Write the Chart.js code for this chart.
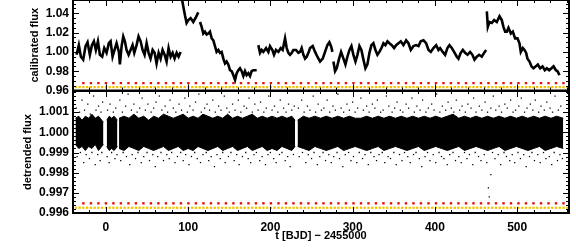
<!DOCTYPE html>
<html>
<head>
<meta charset="utf-8">
<script src="https://cdn.jsdelivr.net/npm/chart.js@4.4.1/dist/chart.umd.min.js"></script>
<style>
body { margin: 0; background: #fff; }
#top { position: absolute; left: 0; top: 0; width: 576px; height: 100px; }
#bot { position: absolute; left: 0; top: 90px; width: 576px; height: 162px; }
</style>
</head>
<body>
<div id="top"><canvas id="c1"></canvas></div>
<div id="bot"><canvas id="c2"></canvas></div>
<script>
// tick labels
var xTicks = [0, 100, 200, 300, 400, 500];
var calTicks = [0.96, 0.98, 1.00, 1.02, 1.04];
var detTicks = [0.996, 0.997, 0.998, 0.999, 1.000, 1.001];

// calibrated flux, one list per observing segment
var calDays = [
  [-35.7,-32.9,-30.4,-27.6,-24.7,-22.3,-19.5,-17.0,-14.6,-12.2,-9.7,-7.3,-4.5,-2.0,0.8,3.6,5.7,8.1,10.5,13.0,15.8,17.0,19.1,21.1,23.1,25.1,27.6,30.0,32.4,34.5,37.3,39.7,42.2,44.6,47.0,49.5,51.9,54.3,56.8,59.2,61.6,64.1,66.5,68.9,71.4,73.8,76.2,78.7,81.1,83.5,86.0,88.4,90.8],
  [91.8,94.1,96.1,98.1,100.2,103.0,106.2,109.5,112.3],
  [114.4,116.4,118.4,120.4,122.5,124.5,126.5,128.6,130.6,132.6,134.6,136.7,138.7,140.7,142.8,144.8,146.8,148.8,150.9,152.9,154.9,157.0,159.0,161.0,163.0,165.1,167.1,169.1,171.1,173.2,175.2,177.2,179.2,183.3],
  [185.3,187.4,189.4,191.4,194.7,197.5,199.5,202.4,204.4,206.8,209.7,212.5,214.9,217.8,219.8,221.8,223.8,225.9,227.9,231.1,234.0,236.0,238.0,240.1,242.1,244.1,246.2,248.2,251.4,254.3,257.1,260.4,263.6,266.4,269.3,271.7,273.7,275.4],
  [276.6,278.6,280.6,283.5,285.9,288.8,291.2,293.6,296.1,298.5,300.9,303.4,305.8,308.2,310.6,313.1,315.5,317.9,320.4,322.8,325.2,327.7,330.1,332.5,335.0,337.4,339.8,342.3,344.7,347.5,350.4,352.8,355.7,358.5,361.7,365.0,367.8,370.7,373.9,377.1,380.0,382.8,386.1,389.3,392.2,395.0,398.2,401.5,404.3,406.3,409.5,412.4,415.2,417.7,420.5,423.3,426.6,428.6,431.4,433.9,436.7,439.6,442.8,445.6,448.1,450.9,453.7,457.0,459.8,462.3],
  [463.1,464.3,466.3,469.1,472.0,475.2,478.5,481.3,483.3,485.4,487.4,489.4,492.3,494.7,497.5,500.4,502.8,504.4,506.9,508.9,510.9,512.5,515.0,517.4,519.8,522.7,525.1,528.0,530.8,533.6,536.1,538.9,541.7,544.2,547.0,549.0,551.5]
];
var calFlux = [
  [0.997,1.007,0.995,0.992,1.006,1.010,0.997,1.007,1.011,1.002,1.011,0.997,0.995,1.004,0.999,1.009,1.011,0.995,1.002,1.009,1.000,0.987,1.006,1.016,1.011,1.002,0.997,1.002,1.007,0.999,1.007,1.016,1.011,1.002,0.997,1.009,0.999,0.993,1.002,0.999,0.988,0.999,0.993,1.002,0.997,0.990,1.004,0.995,0.999,0.993,0.999,0.995,1.000],
  [1.058,1.047,1.038,1.030,1.033,1.035,1.031,1.036,1.041],
  [1.031,1.026,1.019,1.021,1.018,1.019,1.021,1.014,1.012,1.006,1.000,1.002,0.999,1.000,0.993,0.988,0.990,0.987,0.981,0.980,0.976,0.971,0.978,0.981,0.983,0.980,0.975,0.980,0.976,0.978,0.975,0.980,0.981,0.981],
  [1.007,0.999,1.002,1.000,1.004,1.000,1.006,1.002,0.997,1.002,1.000,1.004,1.002,1.014,1.004,0.999,0.997,0.999,1.002,1.002,0.999,1.000,1.004,0.997,0.993,0.995,0.999,1.004,1.006,1.000,0.995,0.990,0.993,1.000,1.007,1.010,1.006,1.000],
  [0.990,0.980,0.983,0.993,1.000,0.993,0.987,0.995,1.002,1.006,0.997,0.990,0.997,1.006,1.002,0.992,0.983,0.987,0.999,1.007,1.009,1.002,0.997,1.000,1.004,1.009,1.007,1.011,1.009,1.007,1.004,1.007,1.009,1.011,1.007,1.012,1.009,1.002,1.006,1.007,1.006,1.011,1.012,1.009,1.002,1.000,1.004,1.007,1.002,1.004,1.000,0.997,1.004,1.007,1.004,1.000,0.995,0.993,0.999,1.002,0.999,0.997,1.000,0.997,0.992,0.995,0.997,0.995,0.999,1.002],
  [1.042,1.026,1.031,1.030,1.033,1.031,1.037,1.033,1.026,1.021,1.021,1.025,1.019,1.021,1.014,1.014,1.009,1.000,1.004,1.002,0.999,0.993,0.990,0.985,0.983,0.985,0.987,0.983,0.985,0.981,0.983,0.981,0.983,0.985,0.981,0.980,0.976]
];

// detrended flux: the dense core, as an upper and lower edge per segment
var bandDays = [
  [-37,-33,-29,-25,-21,-17,-13,-9,-5,-3],
  [1,4,7,10,14],
  [16,22,28,34,40,46,52,58,64,70,76,82,88,94,100,106,112,118,124,130,136,142,148,154,160,166,172,178,184,190,196,202,208,214,220,226,230],
  [233,240,247,254,261,268,275,282,289,296,303,310,317,324,331,338,345,352,359,366,373,380,387,394,401,408,415,422,429,436,443,450,457,464,471,478,485,492,499,506,513,520,527,534,541,548,556]
];
var bandHigh = [
  [1.0007,1.0008,1.0006,1.0008,1.0007,1.0009,1.0007,1.0008,1.0006,1.0005],
  [1.0006,1.0008,1.0007,1.0008,1.0006],
  [1.0007,1.0008,1.0007,1.0009,1.0007,1.0008,1.0006,1.0008,1.0007,1.0009,1.0008,1.0007,1.0008,1.0009,1.0007,1.0008,1.0007,1.0009,1.0008,1.0007,1.0008,1.0007,1.0009,1.0007,1.0008,1.0007,1.0008,1.0009,1.0007,1.0008,1.0007,1.0008,1.0007,1.0008,1.0007,1.0008,1.0006],
  [1.0006,1.0008,1.0007,1.0008,1.0007,1.0008,1.0007,1.0008,1.0007,1.0008,1.0007,1.0007,1.0008,1.0007,1.0008,1.0007,1.0008,1.0007,1.0008,1.0007,1.0008,1.0007,1.0008,1.0007,1.0008,1.0007,1.0008,1.0009,1.0007,1.0008,1.0007,1.0008,1.0007,1.0008,1.0007,1.0008,1.0007,1.0008,1.0007,1.0008,1.0007,1.0008,1.0007,1.0008,1.0007,1.0008,1.0007]
];
var bandLow = [
  [0.9994,0.9992,0.9993,0.9991,0.9993,0.9992,0.9994,0.9991,0.9993,0.9994],
  [0.9993,0.9991,0.9992,0.9991,0.9993],
  [0.9992,0.9991,0.9993,0.9992,0.9991,0.9993,0.9992,0.9991,0.9992,0.9993,0.9991,0.9992,0.9993,0.9991,0.9992,0.9991,0.9993,0.9992,0.9991,0.9992,0.9993,0.9991,0.9992,0.9993,0.9991,0.9992,0.9993,0.9991,0.9992,0.9993,0.9991,0.9992,0.9991,0.9993,0.9992,0.9991,0.9993],
  [0.9993,0.9992,0.9991,0.9993,0.9992,0.9991,0.9992,0.9993,0.9991,0.9992,0.9993,0.9992,0.9991,0.9992,0.9993,0.9991,0.9992,0.9993,0.9992,0.9991,0.9992,0.9993,0.9991,0.9992,0.9993,0.9992,0.9991,0.9992,0.9993,0.9991,0.9992,0.9993,0.9992,0.9991,0.9992,0.9993,0.9991,0.9992,0.9993,0.9992,0.9991,0.9992,0.9993,0.9991,0.9992,0.9993,0.9992]
];

// scattered points above and below the core, [day, flux]
var upOut = [[-36,1.0012],[-32,1.0010],[-29,1.0016],[-26,1.0011],[-22,1.0014],[-19,1.0009],[-15,1.0018],[-12,1.0011],[-9,1.0013],[-6,1.0010],[-4,1.0015],
  [2,1.0011],[5,1.0014],[9,1.0010],[12,1.0012],
  [17,1.0016],[20,1.0010],[24,1.0013],[27,1.0019],[31,1.0011],[34,1.0014],[38,1.0010],[41,1.0012],[44,1.0017],[48,1.0011],[51,1.0014],[55,1.0010],[58,1.0012],[61,1.0015],[65,1.0018],[68,1.0011],[72,1.0013],[75,1.0010],[78,1.0016],[82,1.0012],[85,1.0010],[89,1.0014],[92,1.0011],[96,1.0017],[99,1.0010],[102,1.0013],[106,1.0011],[109,1.0015],[113,1.0019],[116,1.0010],[120,1.0012],[123,1.0014],[126,1.0011],[130,1.0016],[133,1.0010],[137,1.0013],[140,1.0011],[144,1.0018],[147,1.0012],[150,1.0010],[154,1.0014],[157,1.0011],[161,1.0016],[164,1.0010],[168,1.0013],[171,1.0012],[174,1.0017],[178,1.0010],[181,1.0014],[185,1.0011],[188,1.0015],[192,1.0010],[195,1.0012],[198,1.0018],[202,1.0011],[205,1.0013],[209,1.0010],[212,1.0016],[216,1.0012],[219,1.0010],[222,1.0014],[226,1.0011],[229,1.0013],
  [234,1.0012],[238,1.0016],[241,1.0010],[245,1.0013],[248,1.0011],[252,1.0018],[255,1.0010],[258,1.0014],[262,1.0011],[265,1.0012],[269,1.0016],[272,1.0010],[276,1.0013],[279,1.0011],[282,1.0019],[286,1.0012],[289,1.0010],[293,1.0014],[296,1.0011],[300,1.0015],[303,1.0010],[306,1.0012],[310,1.0017],[313,1.0011],[317,1.0013],[320,1.0010],[324,1.0014],[327,1.0012],[330,1.0016],[334,1.0010],[337,1.0011],[341,1.0018],[344,1.0013],[348,1.0010],[351,1.0012],[354,1.0015],[358,1.0011],[361,1.0010],[365,1.0014],[368,1.0012],[372,1.0017],[375,1.0010],[378,1.0013],[382,1.0011],[385,1.0016],[389,1.0010],[392,1.0012],[396,1.0014],[399,1.0011],[402,1.0019],[406,1.0010],[409,1.0013],[413,1.0011],[416,1.0015],[420,1.0012],[423,1.0010],[426,1.0016],[430,1.0011],[433,1.0013],[437,1.0010],[440,1.0014],[444,1.0012],[447,1.0017],[450,1.0010],[454,1.0013],[457,1.0011],[461,1.0015],[464,1.0010],[468,1.0012],[471,1.0018],[474,1.0011],[478,1.0013],[481,1.0010],[485,1.0014],[488,1.0012],[492,1.0016],[495,1.0010],[498,1.0011],[502,1.0013],[505,1.0017],[509,1.0010],[512,1.0012],[516,1.0014],[519,1.0011],[522,1.0016],[526,1.0010],[529,1.0013],[533,1.0011],[536,1.0015],[540,1.0012],[543,1.0010],[546,1.0018],[550,1.0011],[553,1.0013]];
var lowOut = [[-35,0.9988],[-31,0.9990],[-27,0.9985],[-24,0.9989],[-20,0.9987],[-17,0.9990],[-13,0.9984],[-10,0.9989],[-7,0.9986],[-5,0.9990],
  [1.5,0.9988],[4,0.9985],[7,0.9990],[11,0.9987],[13.5,0.9989],
  [18,0.9986],[21,0.9990],[25,0.9988],[29,0.9984],[32,0.9989],[36,0.9987],[39,0.9990],[43,0.9985],[46,0.9988],[50,0.9990],[53,0.9986],[57,0.9989],[60,0.9983],[63,0.9988],[67,0.9990],[70,0.9986],[74,0.9989],[77,0.9987],[80,0.9990],[84,0.9985],[87,0.9988],[91,0.9990],[94,0.9986],[97,0.9989],[101,0.9984],[104,0.9988],[108,0.9990],[111,0.9987],[115,0.9985],[118,0.9989],[122,0.9990],[125,0.9986],[128,0.9988],[132,0.9983],[135,0.9989],[139,0.9987],[142,0.9990],[145,0.9985],[149,0.9988],[152,0.9990],[156,0.9986],[159,0.9989],[162,0.9984],[166,0.9988],[170,0.9990],[173,0.9987],[176,0.9985],[180,0.9989],[183,0.9990],[187,0.9986],[190,0.9988],[194,0.9984],[197,0.9989],[200,0.9990],[204,0.9987],[207,0.9985],[211,0.9989],[214,0.9990],[218,0.9986],[221,0.9988],[224,0.9983],[228,0.9989],
  [235,0.9988],[239,0.9990],[243,0.9985],[246,0.9989],[250,0.9987],[253,0.9990],[257,0.9984],[260,0.9988],[264,0.9990],[267,0.9986],[271,0.9989],[274,0.9985],[277,0.9988],[281,0.9990],[284,0.9987],[288,0.9983],[291,0.9989],[295,0.9990],[298,0.9986],[301,0.9988],[305,0.9985],[308,0.9990],[312,0.9987],[315,0.9989],[319,0.9984],[322,0.9990],[326,0.9988],[329,0.9986],[332,0.9989],[336,0.9990],[339,0.9985],[343,0.9988],[346,0.9987],[350,0.9990],[353,0.9984],[357,0.9989],[360,0.9986],[363,0.9990],[367,0.9988],[370,0.9985],[374,0.9989],[377,0.9990],[381,0.9987],[384,0.9983],[388,0.9988],[391,0.9990],[394,0.9986],[398,0.9989],[401,0.9985],[405,0.9990],[408,0.9988],[411,0.9987],[415,0.9984],[418,0.9989],[422,0.9990],[425,0.9986],[429,0.9988],[432,0.9985],[436,0.9990],[439,0.9987],[442,0.9989],[446,0.9984],[449,0.9990],[453,0.9988],[456,0.9986],[460,0.9989],[463,0.9985],[465,0.99725],[466,0.9968],[468,0.9979],[470,0.9990],[473,0.9987],[477,0.9989],[480,0.9984],[484,0.9990],[487,0.9988],[491,0.9986],[494,0.9989],[497,0.9985],[501,0.9990],[504,0.9987],[508,0.9989],[511,0.9983],[515,0.9988],[518,0.9990],[521,0.9986],[525,0.9989],[528,0.9985],[532,0.9990],[535,0.9987],[539,0.9988],[542,0.9984],[545,0.9990],[549,0.9986],[552,0.9989],[555,0.9987]];

// event markers (red and yellow) along the bottom of both panels
var redTimes = [-27.4,-18.2,-9.1,0,9.1,18.2,27.4,36.5,45.6,54.7,63.8,73.0,82.1,91.2,100.3,109.4,118.6,127.7,136.8,145.9,155.0,164.2,173.3,182.4,191.5,200.6,209.8,218.9,228.0,237.1,246.2,255.4,264.5,273.6,282.7,291.8,301.0,310.1,319.2,328.3,337.4,346.6,355.7,364.8,373.9,383.0,392.2,401.3,410.4,419.5,428.6,437.8,446.9,456.0,465.1,474.2,483.4,492.5,501.6,510.7,519.8,529.0,538.1,547.2,556.3];
var yellowTimes = [-36.5,-31.9,-27.4,-22.8,-18.2,-13.7,-9.1,-4.6,0,4.6,9.1,13.7,18.2,22.8,27.4,31.9,36.5,41.0,45.6,50.2,54.7,59.3,63.8,68.4,73.0,77.5,82.1,86.6,91.2,95.8,100.3,104.9,109.4,114.0,118.6,123.1,127.7,132.2,136.8,141.4,145.9,150.5,155.0,159.6,164.2,168.7,173.3,177.8,182.4,187.0,191.5,196.1,200.6,205.2,209.8,214.3,218.9,223.4,228.0,232.6,237.1,241.7,246.2,250.8,255.4,259.9,264.5,269.0,273.6,278.2,282.7,287.3,291.8,296.4,301.0,305.5,310.1,314.6,319.2,323.8,328.3,332.9,337.4,342.0,346.6,351.1,355.7,360.2,364.8,369.4,373.9,378.5,383.0,387.6,392.2,396.7,401.3,405.8,410.4,415.0,419.5,424.1,428.6,433.2,437.8,442.3,446.9,451.4,456.0,460.6,465.1,469.7,474.2,478.8,483.4,487.9,492.5,497.0,501.6,506.2,510.7,515.3,519.8,524.4,529.0,533.5,538.1,542.6,547.2,551.8,556.3,560.9];
var calMarkLevel = [0.9676, 0.9634];
var detMarkLevel = [0.99648, 0.99626];

Chart.defaults.font.family = "'Liberation Sans', Arial, sans-serif";
Chart.defaults.font.weight = 'bold';
Chart.defaults.color = '#000';

function pts(xs, ys) {
  return xs.map(function (x, i) { return { x: x, y: ys[i] }; });
}
function pairs(list) {
  return list.map(function (p) { return { x: p[0], y: p[1] }; });
}
function steps(a, b, s) {
  var out = [];
  for (var v = a; v <= b + s / 1000; v += s) out.push(Math.round(v / s) * s);
  return out;
}
function markers(times, level, color, r) {
  return {
    data: times.map(function (t) { return { x: t, y: level }; }),
    showLine: false, pointStyle: 'rect', pointRadius: r,
    pointBackgroundColor: color, pointBorderWidth: 0
  };
}
function noPad(s) {
  s.paddingTop = 0; s.paddingBottom = 0; s.paddingLeft = 0; s.paddingRight = 0;
}

// box round the plot with inward ticks, IDL style
var frame = {
  id: 'frame',
  afterDatasetsDraw: function (chart, args, o) {
    var ctx = chart.ctx, a = chart.chartArea;
    var sx = chart.scales.x, sy = chart.scales.y;
    ctx.save();
    ctx.strokeStyle = '#000';
    ctx.lineWidth = 1;
    ctx.beginPath();
    function xt(vals, len) {
      vals.forEach(function (v) {
        var p = Math.round(sx.getPixelForValue(v)) + 0.5;
        if (p < a.left || p > a.right) return;
        ctx.moveTo(p, a.bottom); ctx.lineTo(p, a.bottom - len);
        ctx.moveTo(p, a.top); ctx.lineTo(p, a.top + len);
      });
    }
    function yt(vals, len) {
      vals.forEach(function (v) {
        var p = Math.round(sy.getPixelForValue(v)) + 0.5;
        if (p < a.top || p > a.bottom) return;
        ctx.moveTo(a.left, p); ctx.lineTo(a.left + len, p);
        ctx.moveTo(a.right, p); ctx.lineTo(a.right - len, p);
      });
    }
    xt(o.xMinor, 3); xt(o.xMajor, 6);
    yt(o.yMinor, 3); yt(o.yMajor, 6);
    ctx.stroke();
    ctx.lineWidth = 2;
    ctx.strokeRect(a.left, a.top, a.right - a.left, a.bottom - a.top);
    ctx.restore();
  }
};

var xMinor = steps(-40, 560, 20);

function yAxis(min, max, ticks, digits, title, titlePad) {
  return {
    type: 'linear', min: min, max: max,
    afterBuildTicks: function (s) { s.ticks = ticks.map(function (v) { return { value: v }; }); },
    afterFit: function (s) { s.width = 73; noPad(s); },
    grid: { display: false, drawTicks: false },
    border: { display: false },
    ticks: {
      autoSkip: false, padding: 4, color: '#000',
      font: { size: 12, weight: 'bold' },
      callback: function (v) { return Number(v).toFixed(digits); }
    },
    title: {
      display: true, text: title, color: '#000',
      font: { size: 11, weight: 'bold' },
      padding: { top: titlePad, bottom: 0 }
    }
  };
}

// top panel
var topSets = calDays.map(function (d, i) {
  return { data: pts(d, calFlux[i]), borderColor: '#000', borderWidth: 2.6, pointRadius: 0, fill: false };
});
topSets.push(markers(yellowTimes, calMarkLevel[1], '#f5c000', 1.6));
topSets.push(markers(redTimes, calMarkLevel[0], '#e8100c', 1.7));

new Chart(document.getElementById('c1'), {
  type: 'line',
  data: { datasets: topSets },
  plugins: [frame],
  options: {
    responsive: true, maintainAspectRatio: false, animation: false,
    layout: { autoPadding: false, padding: { left: 0, right: 7, top: 0, bottom: 9.5 } },
    plugins: {
      legend: { display: false }, tooltip: { enabled: false },
      frame: { xMajor: xTicks, xMinor: xMinor, yMajor: calTicks, yMinor: steps(0.955, 1.055, 0.005) }
    },
    scales: {
      x: { type: 'linear', min: -40, max: 563, display: false, afterFit: noPad },
      y: yAxis(0.96, 1.0538, calTicks, 2, 'calibrated flux', 28)
    }
  }
});

// bottom panel
var botSets = [];
bandDays.forEach(function (d, i) {
  botSets.push({ data: pts(d, bandHigh[i]), borderColor: '#000', borderWidth: 1, pointRadius: 0, fill: '+1', backgroundColor: '#000' });
  botSets.push({ data: pts(d, bandLow[i]), borderColor: '#000', borderWidth: 1, pointRadius: 0, fill: false });
});
[upOut, lowOut].forEach(function (list) {
  botSets.push({
    data: pairs(list), showLine: false, pointStyle: 'rect',
    pointRadius: 0.9, pointBackgroundColor: '#000', pointBorderWidth: 0
  });
});
botSets.push(markers(yellowTimes, detMarkLevel[1], '#f5c000', 1.6));
botSets.push(markers(redTimes, detMarkLevel[0], '#e8100c', 1.7));

new Chart(document.getElementById('c2'), {
  type: 'line',
  data: { datasets: botSets },
  plugins: [frame],
  options: {
    responsive: true, maintainAspectRatio: false, animation: false,
    layout: { autoPadding: false, padding: { left: 0, right: 7, top: 1, bottom: 0 } },
    plugins: {
      legend: { display: false }, tooltip: { enabled: false },
      frame: { xMajor: xTicks, xMinor: xMinor, yMajor: detTicks, yMinor: steps(0.996, 1.002, 0.0002) }
    },
    scales: {
      x: {
        type: 'linear', min: -40, max: 563,
        afterBuildTicks: function (s) { s.ticks = xTicks.map(function (v) { return { value: v }; }); },
        afterFit: function (s) { s.height = 39; noPad(s); },
        grid: { display: false, drawTicks: false },
        border: { display: false },
        ticks: { autoSkip: false, maxRotation: 0, padding: 7, color: '#000', font: { size: 12, weight: 'bold' },
          callback: function (v) { return String(v); } },
        title: { display: true, text: 't [BJD] − 2455000', color: '#000', font: { size: 11, weight: 'bold' },
          padding: { top: 0, bottom: 9.4 } }
      },
      y: yAxis(0.996, 1.00205, detTicks, 3, 'detrended flux', 21)
    }
  }
});
</script>
</body>
</html>
